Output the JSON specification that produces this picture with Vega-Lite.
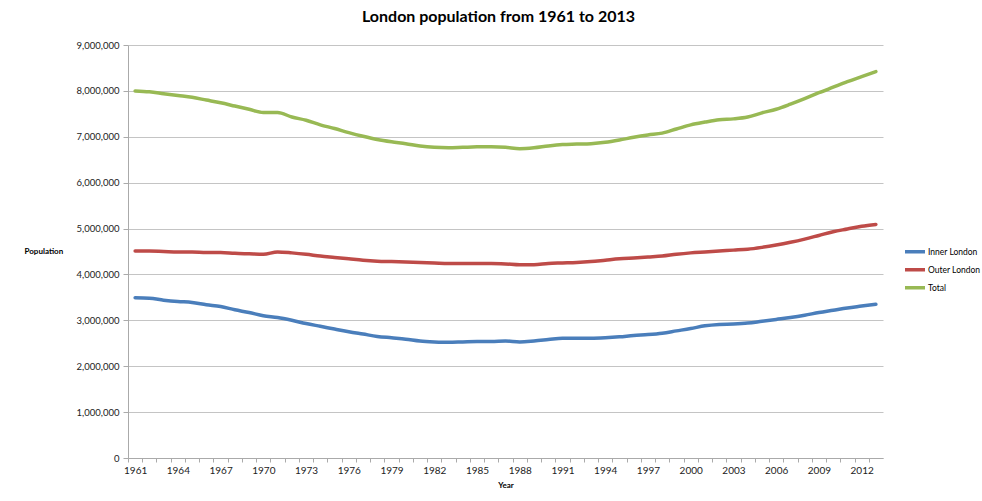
{
  "$schema": "https://vega.github.io/schema/vega-lite/v6.json",
  "width": 755,
  "height": 413,
  "autosize": {"type": "none"},
  "padding": {"left": 128, "top": 45, "right": 99, "bottom": 43},
  "background": "white",
  "title": {"text": "London population from 1961 to 2013", "font": "Lato", "fontSize": 16, "fontWeight": "bold", "color": "#000000", "offset": 15, "dx": -7},
  "config": {"view": {"stroke": null}, "font": "Lato"},
  "datasets": {
    "pop": [
      {"year":1961,"Inner London":3490000,"Outer London":4510000,"Total":8000000},
      {"year":1962,"Inner London":3480000,"Outer London":4510000,"Total":7980000},
      {"year":1963,"Inner London":3440000,"Outer London":4500000,"Total":7940000},
      {"year":1964,"Inner London":3410000,"Outer London":4490000,"Total":7900000},
      {"year":1965,"Inner London":3390000,"Outer London":4490000,"Total":7860000},
      {"year":1966,"Inner London":3340000,"Outer London":4480000,"Total":7800000},
      {"year":1967,"Inner London":3300000,"Outer London":4480000,"Total":7740000},
      {"year":1968,"Inner London":3230000,"Outer London":4460000,"Total":7670000},
      {"year":1969,"Inner London":3170000,"Outer London":4450000,"Total":7600000},
      {"year":1970,"Inner London":3100000,"Outer London":4440000,"Total":7530000},
      {"year":1971,"Inner London":3060000,"Outer London":4490000,"Total":7530000},
      {"year":1972,"Inner London":3000000,"Outer London":4470000,"Total":7430000},
      {"year":1973,"Inner London":2930000,"Outer London":4440000,"Total":7360000},
      {"year":1974,"Inner London":2870000,"Outer London":4400000,"Total":7260000},
      {"year":1975,"Inner London":2810000,"Outer London":4370000,"Total":7180000},
      {"year":1976,"Inner London":2750000,"Outer London":4340000,"Total":7090000},
      {"year":1977,"Inner London":2700000,"Outer London":4310000,"Total":7010000},
      {"year":1978,"Inner London":2650000,"Outer London":4290000,"Total":6940000},
      {"year":1979,"Inner London":2620000,"Outer London":4280000,"Total":6890000},
      {"year":1980,"Inner London":2590000,"Outer London":4270000,"Total":6850000},
      {"year":1981,"Inner London":2550000,"Outer London":4260000,"Total":6800000},
      {"year":1982,"Inner London":2530000,"Outer London":4250000,"Total":6770000},
      {"year":1983,"Inner London":2520000,"Outer London":4240000,"Total":6760000},
      {"year":1984,"Inner London":2530000,"Outer London":4240000,"Total":6770000},
      {"year":1985,"Inner London":2540000,"Outer London":4240000,"Total":6780000},
      {"year":1986,"Inner London":2540000,"Outer London":4240000,"Total":6780000},
      {"year":1987,"Inner London":2550000,"Outer London":4230000,"Total":6770000},
      {"year":1988,"Inner London":2530000,"Outer London":4210000,"Total":6740000},
      {"year":1989,"Inner London":2550000,"Outer London":4210000,"Total":6760000},
      {"year":1990,"Inner London":2580000,"Outer London":4240000,"Total":6800000},
      {"year":1991,"Inner London":2610000,"Outer London":4250000,"Total":6830000},
      {"year":1992,"Inner London":2610000,"Outer London":4260000,"Total":6840000},
      {"year":1993,"Inner London":2610000,"Outer London":4280000,"Total":6850000},
      {"year":1994,"Inner London":2620000,"Outer London":4310000,"Total":6880000},
      {"year":1995,"Inner London":2640000,"Outer London":4340000,"Total":6930000},
      {"year":1996,"Inner London":2670000,"Outer London":4360000,"Total":6990000},
      {"year":1997,"Inner London":2690000,"Outer London":4380000,"Total":7040000},
      {"year":1998,"Inner London":2720000,"Outer London":4400000,"Total":7080000},
      {"year":1999,"Inner London":2770000,"Outer London":4440000,"Total":7170000},
      {"year":2000,"Inner London":2820000,"Outer London":4470000,"Total":7260000},
      {"year":2001,"Inner London":2880000,"Outer London":4490000,"Total":7320000},
      {"year":2002,"Inner London":2910000,"Outer London":4510000,"Total":7370000},
      {"year":2003,"Inner London":2920000,"Outer London":4530000,"Total":7390000},
      {"year":2004,"Inner London":2940000,"Outer London":4550000,"Total":7430000},
      {"year":2005,"Inner London":2980000,"Outer London":4590000,"Total":7520000},
      {"year":2006,"Inner London":3020000,"Outer London":4640000,"Total":7600000},
      {"year":2007,"Inner London":3060000,"Outer London":4700000,"Total":7710000},
      {"year":2008,"Inner London":3110000,"Outer London":4770000,"Total":7830000},
      {"year":2009,"Inner London":3170000,"Outer London":4850000,"Total":7960000},
      {"year":2010,"Inner London":3220000,"Outer London":4930000,"Total":8080000},
      {"year":2011,"Inner London":3270000,"Outer London":4990000,"Total":8200000},
      {"year":2012,"Inner London":3310000,"Outer London":5050000,"Total":8310000},
      {"year":2013,"Inner London":3350000,"Outer London":5090000,"Total":8420000}
    ]
  },
  "data": {"name": "pop"},
  "transform": [{"fold": ["Inner London", "Outer London", "Total"], "as": ["series", "value"]}],
  "mark": {"type": "line", "strokeWidth": 3.5, "strokeCap": "round", "interpolate": "monotone"},
  "encoding": {
    "x": {
      "field": "year", "type": "quantitative",
      "scale": {"domain": [1960.5, 2013.5], "nice": false, "zero": false},
      "axis": {
        "title": "Year", "titleFont": "Lato", "titleFontSize": 8, "titleFontWeight": "bold", "titleColor": "#000", "titlePadding": 6,
        "values": [1961,1962,1963,1964,1965,1966,1967,1968,1969,1970,1971,1972,1973,1974,1975,1976,1977,1978,1979,1980,1981,1982,1983,1984,1985,1986,1987,1988,1989,1990,1991,1992,1993,1994,1995,1996,1997,1998,1999,2000,2001,2002,2003,2004,2005,2006,2007,2008,2009,2010,2011,2012,2013,2014],
        "labelExpr": "((datum.value - 1961) % 3 == 0 && datum.value <= 2013) ? ('' + datum.value) : ''",
        "tickOffset": -7.12, "labelOffset": 7.12,
        "labelOverlap": false, "labelFlush": false,
        "labelFont": "Lato", "labelFontSize": 10, "labelColor": "#222", "labelPadding": 3,
        "tickSize": 4, "tickColor": "#aaaaaa", "domainColor": "#aaaaaa", "grid": false
      }
    },
    "y": {
      "field": "value", "type": "quantitative",
      "scale": {"domain": [0, 9000000], "nice": false},
      "axis": {
        "title": "Population", "titleFont": "Lato", "titleFontSize": 8, "titleFontWeight": "bold", "titleColor": "#000",
        "titleAngle": 0, "titleAlign": "left", "titleBaseline": "middle", "titleX": -104, "titleY": 206,
        "values": [0,1000000,2000000,3000000,4000000,5000000,6000000,7000000,8000000,9000000],
        "format": ",d", "labelFont": "Lato", "labelFontSize": 9.5, "labelColor": "#222", "labelPadding": 4,
        "tickSize": 5, "tickColor": "#aaaaaa", "domainColor": "#aaaaaa",
        "grid": true, "gridColor": "#c4c4c4", "gridWidth": 1
      }
    },
    "color": {
      "field": "series", "type": "nominal",
      "scale": {"domain": ["Inner London", "Outer London", "Total"], "range": ["#4a7ebb", "#be4b48", "#98b954"]},
      "legend": {
        "title": null, "orient": "none", "legendX": 775, "legendY": 198,
        "symbolType": "stroke", "symbolSize": 400, "symbolStrokeWidth": 3.5,
        "labelFont": "Lato", "labelFontSize": 8.5, "labelColor": "#000", "labelOffset": 1,
        "clipHeight": 17.5, "rowPadding": 0
      }
    }
  }
}
